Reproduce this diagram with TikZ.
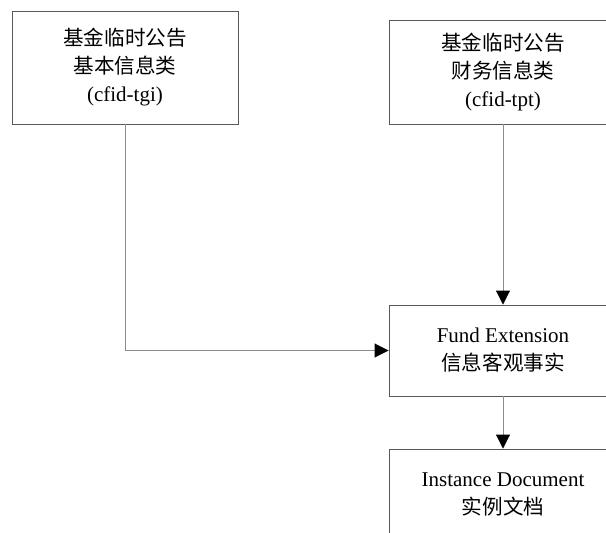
\documentclass[tikz,border=0pt]{standalone}
\usepackage{fontspec}
\setmainfont{Liberation Serif}
\newfontfamily\cjk{Noto Sans CJK SC}[Scale=0.98]
\usetikzlibrary{arrows.meta}
\begin{document}
\begin{tikzpicture}[x=1pt,y=-1pt,
  box/.style={draw=black!65, line width=0.9pt, fill=white, rectangle, align=center,
    inner sep=0pt, font=\fontsize{21}{28}\selectfont},
  conn/.style={draw=black!45, line width=0.9pt,
    -{Triangle[length=14pt,width=14pt,fill=black,color=black]}}]
\useasboundingbox (0,0) rectangle (606,533);
\clip (0,0) rectangle (606,533);
\node[box, minimum width=226pt, minimum height=113pt] (tgi) at (125,67.5)
  {{\cjk 基金临时公告}\\{\cjk 基本信息类}\\(cfid-tgi)};
\node[box, minimum width=228pt, minimum height=104pt] (tpt) at (503,72)
  {{\cjk 基金临时公告}\\{\cjk 财务信息类}\\(cfid-tpt)};
\node[box, minimum width=228pt, minimum height=91pt] (fe) at (503,350.5)
  {Fund Extension\\{\cjk 信息客观事实}};
\node[box, minimum width=228pt, minimum height=91pt] (inst) at (503,494.5)
  {Instance Document\\{\cjk 实例文档}};
\draw[conn] (tpt.south) -- (fe.north);
\draw[conn] (tgi.south) |- (fe.west);
\draw[conn] (fe.south) -- (inst.north);
\end{tikzpicture}
\end{document}
